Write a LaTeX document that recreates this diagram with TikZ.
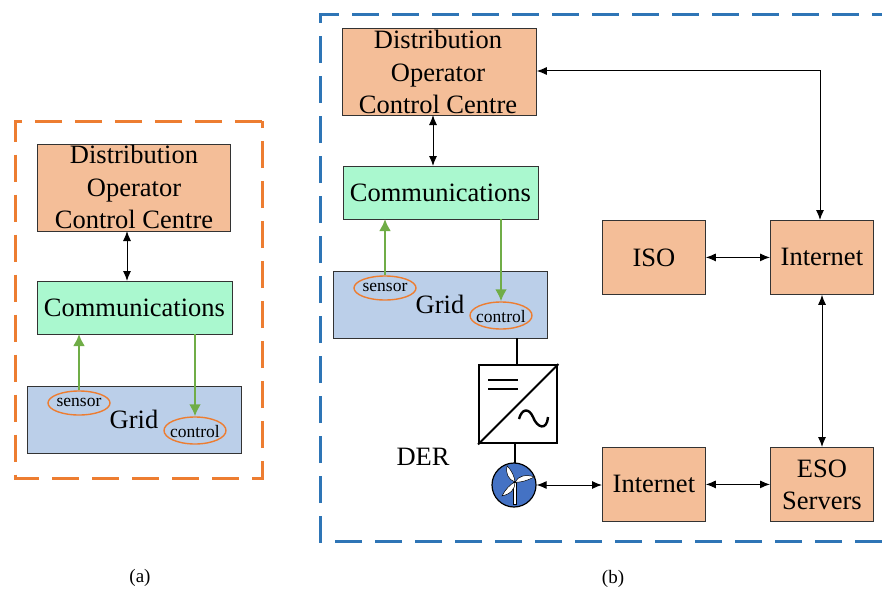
\documentclass[tikz,border=0pt]{standalone}
\usepackage{fontspec}
\setmainfont{Liberation Serif}
\usetikzlibrary{arrows.meta,shapes.geometric}
\definecolor{peach}{HTML}{F4BE98}
\definecolor{mint}{HTML}{AAF8CF}
\definecolor{gridblue}{HTML}{BBCFE9}
\definecolor{oborder}{HTML}{ED7D31}
\definecolor{bborder}{HTML}{2E75B6}
\definecolor{garrow}{HTML}{70AD47}
\definecolor{turb}{HTML}{4472C4}
\tikzset{
  x=1pt,y=-1pt,
  pbox/.style={draw=black!80,line width=0.8pt,fill=peach,minimum width=#1,inner sep=0pt,align=center,font=\fontsize{26.5}{32}\selectfont},
  dbl/.style={{Latex[length=10pt,width=8pt]}-{Latex[length=10pt,width=8pt]},line width=1pt},
  garr/.style={-{Latex[length=12pt,width=12pt]},draw=garrow,line width=2.6pt},
  ovalmark/.style={draw=oborder,line width=1.4pt,ellipse,inner sep=0pt},
  ovaltxt/.style={inner sep=0pt,font=\fontsize{17.5}{20}\selectfont},
  lab/.style={font=\fontsize{19}{22}\selectfont,inner sep=0pt},
  frameo/.style={draw=oborder,line width=3pt,dash pattern=on 27pt off 13pt},
  frameb/.style={draw=bborder,line width=3pt,dash pattern=on 27pt off 13pt},
  conv/.style={draw=black,line width=2.4pt},
  comm/.style={draw=black!80,line width=0.8pt,fill=mint,minimum width=195pt,minimum height=53pt,inner sep=0pt,anchor=north west,font=\fontsize{26.5}{30}\selectfont},
  gridbox/.style={draw=black!80,line width=0.8pt,fill=gridblue,minimum width=214pt,minimum height=67pt,inner sep=0pt,anchor=north west},
  bigtxt/.style={font=\fontsize{26.5}{30}\selectfont,inner sep=0pt},
  titletxt/.style={font=\fontsize{26.5}{32.5}\selectfont,align=center,inner sep=0pt},
  blade/.style={fill=white,draw=black,line width=.5pt}
}
\begin{document}
\begin{tikzpicture}
\useasboundingbox (0,0) rectangle (882,591);
% frames
\draw[frameo] (262,121) -- (15.5,121) -- (15.5,478) -- (262,478) -- cycle;
\draw[frameb] (882,541) -- (320,541) -- (320,15) -- (882,15);

% panel (a)
\node[pbox=193pt,minimum height=87pt,anchor=north west] (a1) at (36.5,143.5) {};
\node[titletxt] (a1t) at (134,187) {Distribution\\Operator\\Control Centre};
\node[comm] (a2) at (36.5,280.5) {Communications};
\node[gridbox] (a3) at (26.5,385.5) {};
\node[bigtxt] (a3t) at (134,419) {Grid};
\node[ovalmark,minimum width=62pt,minimum height=24pt] (as) at (79,403) {};
\node[ovaltxt] (ast) at (79,402) {sensor};
\node[ovalmark,minimum width=62pt,minimum height=27pt] (ac) at (195,430.5) {};
\node[ovaltxt] (act) at (195,432) {control};
\draw[dbl] (127,231) -- (127,281);
\coordinate (asu) at (79,334);
\coordinate (acu) at (195,334);
\draw[garr] (as.north) -- (asu);
\draw[garr] (acu) -- (ac.north);

% panel (b)
\node[pbox=194pt,minimum height=86pt,anchor=north west] (b1) at (342,28.5) {};
\node[titletxt] (b1t) at (438,72) {Distribution\\Operator\\Control Centre};
\node[comm] (b2) at (342.5,165.5) {Communications};
\node[gridbox] (b3) at (332.5,270.5) {};
\node[bigtxt] (b3t) at (440,304) {Grid};
\node[ovalmark,minimum width=62pt,minimum height=24pt] (bs) at (385,288) {};
\node[ovaltxt] (bst) at (385,287) {sensor};
\node[ovalmark,minimum width=62pt,minimum height=27pt] (bc) at (501,315.5) {};
\node[ovaltxt] (bct) at (501,317) {control};
\draw[dbl] (433,115) -- (433,166);
\coordinate (bsu) at (385,219);
\coordinate (bcu) at (501,219);
\draw[garr] (bs.north) -- (bsu);
\draw[garr] (bcu) -- (bc.north);

\node[pbox=103pt,minimum height=74pt,anchor=north west] (iso) at (602,220) {ISO};
\node[pbox=103pt,minimum height=74pt,anchor=north west] (inet1) at (770,220) {Internet};
\node[pbox=103pt,minimum height=74pt,anchor=north west] (inet2) at (602,447) {Internet};
\node[pbox=103pt,minimum height=74pt,anchor=north west] (eso) at (770,447) {ESO\\Servers};

\coordinate (bend) at (820,71);
\draw[dbl] (b1.east|-bend) -- (bend) -- (bend|-inet1.north);
\draw[dbl] (iso) -- (inet1);
\draw[dbl] (inet1.south-|822,0) -- (eso.north-|822,0);
\draw[dbl] (inet2) -- (eso);

% converter
\node[conv,minimum size=78pt,inner sep=0pt,anchor=north west] (cv) at (478,364) {};
\draw[conv,line width=2pt] (cv.south west) -- (cv.north east);
\draw[conv,line width=2pt] (488,380) -- (518,380) (488,389) -- (518,389);
\draw[conv,line width=2.4pt] (519,419) .. controls (522,408) and (529,408) .. (533,417) .. controls (537,428) and (547,431) .. (548,417);
\coordinate (cvt) at (517,338);
\draw[conv] (cvt) -- (517,364);

% wind turbine
\node[circle,draw=black,line width=1.2pt,fill=turb,minimum size=44pt,inner sep=0pt] (wt) at (514,485) {};
\draw[conv] (515,442) -- (515,463);
\draw[blade] (513.5,482) -- (516.5,482) -- (516.5,504) -- (513.5,504) -- cycle;
\foreach \a/\l in {116/18,15/20,227/19}{
  \draw[blade,shift={(515,482)},rotate=\a,x=1pt,y=1pt] (0,0) .. controls (5,5) and (12,5) .. (\l,0) .. controls (12,-2) and (5,-2) .. (0,0) -- cycle;
}
\draw[dbl] (wt.east) -- (inet2.west|-wt);
\node[bigtxt] (der) at (423,457) {DER};

\node[lab] (la) at (140,578) {(a)};
\node[lab] (lb) at (613,579) {(b)};
\end{tikzpicture}
\end{document}
